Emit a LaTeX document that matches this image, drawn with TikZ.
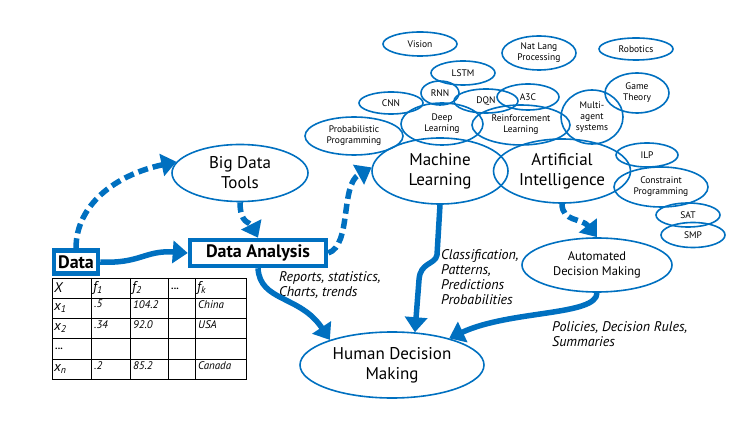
\documentclass[tikz,border=0pt]{standalone}
\usepackage{fontspec}
\setmainfont{PT Sans}
\usetikzlibrary{arrows.meta,shapes.geometric}
\definecolor{aiblue}{RGB}{0,112,192}

\begin{document}
\begin{tikzpicture}[x=1pt,y=-1pt,
    topic/.style={ellipse,draw=aiblue,line width=1.6pt,inner sep=0pt,align=center},
    bigtopic/.style={topic,font=\fontsize{17}{20}\selectfont},
    midtopic/.style={topic,font=\fontsize{12.5}{15}\selectfont},
    smalltopic/.style={topic,font=\fontsize{9.5}{11}\selectfont},
    databox/.style={draw=aiblue,line width=4.5pt,inner sep=0pt,font=\bfseries\fontsize{18}{20}\selectfont},
    flow/.style={draw=aiblue,line width=5.5pt,-{Triangle[length=15pt,width=22pt]}},
    dashflow/.style={flow,dash pattern=on 10pt off 5pt},
    note/.style={inner sep=0pt,align=left,anchor=west,font=\itshape\fontsize{14}{15}\selectfont},
    cell/.style={inner sep=0pt,anchor=north west,font=\itshape\fontsize{11}{12}\selectfont},
    head/.style={inner sep=0pt,anchor=west,font=\itshape\fontsize{14}{15}\selectfont}]
    \useasboundingbox (0,0) rectangle (749,427);

    % fields around machine learning and AI
    \node[smalltopic,minimum width=74pt,minimum height=24pt] (vision) at (420,44) {Vision};
    \node[smalltopic,minimum width=74pt,minimum height=34pt] (nlp) at (539,53) {Nat Lang\\Processing};
    \node[smalltopic,minimum width=74pt,minimum height=22pt] (robotics) at (636,49) {Robotics};
    \node[smalltopic,minimum width=64pt,minimum height=24pt] (lstm) at (463,73) {LSTM};
    \node[smalltopic,minimum width=38pt,minimum height=24pt] (rnn) at (440,93) {RNN};
    \node[smalltopic,minimum width=64pt,minimum height=22pt] (cnn) at (391,103) {CNN};
    \node[smalltopic,minimum width=64pt,minimum height=24pt] (dqn) at (486,101) {DQN};
    \node[smalltopic,minimum width=62pt,minimum height=26pt] (athreec) at (528,97) {A3C};
    \node[smalltopic,minimum width=82pt,minimum height=42pt] (deep) at (442,124) {Deep\\Learning};
    \node[smalltopic,minimum width=98pt,minimum height=40pt] (reinf) at (521,125) {Reinforcement\\Learning};
    \node[smalltopic,minimum width=62pt,minimum height=54pt] (multi) at (592,117) {Multi-\\agent\\systems};
    \node[smalltopic,minimum width=64pt,minimum height=40pt] (game) at (637,93) {Game\\Theory};
    \node[smalltopic,minimum width=98pt,minimum height=38pt] (prob) at (354,136) {Probabilistic\\Programming};
    \node[smalltopic,minimum width=62pt,minimum height=24pt] (ilp) at (647,155) {ILP};
    \node[smalltopic,minimum width=94pt,minimum height=40pt] (constr) at (661,187) {Constraint\\Programming};
    \node[smalltopic,minimum width=64pt,minimum height=24pt] (sat) at (688,215) {SAT};
    \node[smalltopic,minimum width=64pt,minimum height=25pt] (smp) at (693,235) {SMP};

    \node[bigtopic,minimum width=136pt,minimum height=66pt] (ml) at (440,171) {Machine\\Learning};
    \node[bigtopic,minimum width=137pt,minimum height=64pt] (ai) at (562,171) {Artificial\\Intelligence};
    \node[bigtopic,minimum width=136pt,minimum height=57pt] (bigdata) at (240,173) {Big Data\\Tools};
    \node[bigtopic,minimum width=184pt,minimum height=66pt] (hdm) at (392,365) {Human Decision\\Making};
    \node[midtopic,minimum width=150pt,minimum height=54pt] (adm) at (597,265) {Automated\\Decision Making};

    \node[databox,minimum width=44pt,minimum height=23pt] (data) at (76,262) {Data};
    \node[databox,minimum width=136pt,minimum height=26pt] (dataan) at (258,253) {Data Analysis};

    % the data table
    \draw[line width=0.9pt] (52,278) rectangle (246,379);
    \foreach \y in {298,318,338,359}
      \draw[line width=0.9pt] (52,\y) -- (246,\y);
    \foreach \x in {91,130,168,195}
      \draw[line width=0.9pt] (\x,278) -- (\x,379);
    \foreach \x/\t [count=\i] in {54/X, 93/f\textsubscript{1}, 132/f\textsubscript{2}, 197/f\textsubscript{k}}
      \node[head] (col\i) at (\x,288) {\t};
    \node[head,font=\bfseries\fontsize{10}{11}\selectfont] (coldots) at (171,289) {...};
    \foreach \y/\t [count=\i] in {308/x\textsubscript{1}, 328/x\textsubscript{2}, 369/x\textsubscript{n}}
      \node[head] (row\i) at (54,\y) {\t};
    \node[head,font=\bfseries\fontsize{10}{11}\selectfont] (rowdots) at (55,349) {...};
    \foreach \y/\a/\b/\c [count=\i] in {300/.5/104.2/China, 320/.34/92.0/USA, 361/.2/85.2/Canada}{
      \node[cell] (fa\i) at (94,\y) {\a};
      \node[cell] (fb\i) at (133,\y) {\b};
      \node[cell] (fc\i) at (198,\y) {\c};
    }

    % labels on the flows
    \node[note] (reports) at (279,285) {Reports, statistics,\\Charts, trends};
    \node[note] (classif) at (441,277) {Classification,\\Patterns,\\Predictions\\Probabilities};
    \node[note] (policies) at (552,334) {Policies, Decision Rules,\\Summaries};

    % flows
    \draw[dashflow] (data.north) .. controls (76,205) and (115,175) .. (bigdata.170);
    \draw[flow] (data.east) .. controls (140,264) and (145,250) .. (dataan.west);
    \draw[dashflow] (bigdata.south) .. controls (240,224) and (250,222) .. (dataan.north);
    \draw[dashflow] (dataan.east) .. controls (352,245) and (340,185) .. (ml.177);
    \draw[flow] (dataan.south) .. controls (260,302) and (300,295) .. (hdm.158);
    \draw[flow] (ml.south) -- (437,255) .. controls (435,265) and (420,262) .. (419,280) -- (hdm.55);
    \draw[dashflow] (ai.south) .. controls (562,222) and (582,218) .. (adm.north);
    \draw[flow] (adm.south) .. controls (597,316) and (510,310) .. (hdm.25);
\end{tikzpicture}
\end{document}
